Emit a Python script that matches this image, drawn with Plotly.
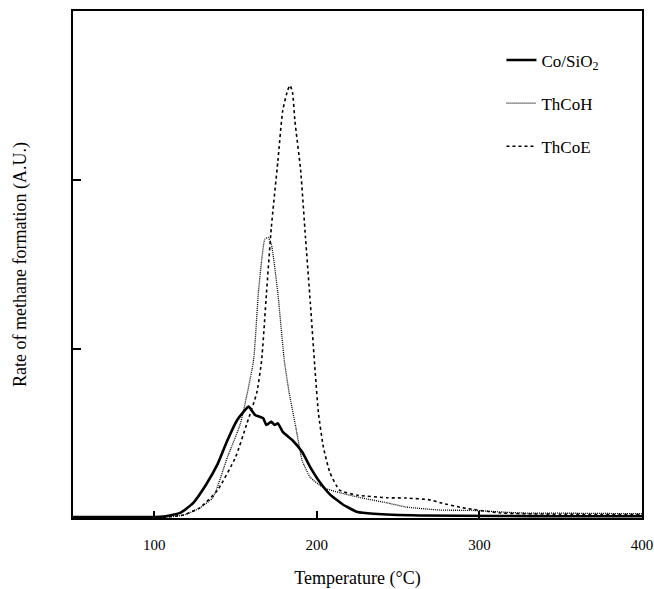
import plotly.graph_objects as go

# Temperature (°C) and rate (A.U.)
co_T = [50, 97, 107, 116, 124, 132, 139, 145, 151, 155, 158, 162, 167, 169, 172, 174, 176, 179, 185, 191, 196, 202, 208, 216, 225, 235, 263, 313, 350, 400]
co_R = [0.005, 0.005, 0.01, 0.03, 0.09, 0.20, 0.32, 0.46, 0.58, 0.63, 0.66, 0.61, 0.59, 0.55, 0.57, 0.55, 0.56, 0.51, 0.46, 0.39, 0.30, 0.21, 0.14, 0.08, 0.035, 0.025, 0.015, 0.012, 0.01, 0.01]

thh_T = [50, 97, 113, 119, 128, 136, 145, 153, 161, 164, 166, 168, 170, 172, 176, 180, 183, 187, 191, 196, 204, 214, 227, 243, 255, 276, 296, 325, 360, 400]
thh_R = [0.003, 0.003, 0.01, 0.02, 0.06, 0.12, 0.36, 0.56, 0.93, 1.33, 1.52, 1.65, 1.66, 1.62, 1.33, 0.93, 0.74, 0.54, 0.34, 0.24, 0.18, 0.15, 0.12, 0.09, 0.065, 0.047, 0.045, 0.03, 0.028, 0.025]

the_T = [50, 104, 118, 128, 139, 150, 157, 163, 166, 169, 172, 176, 179, 182, 183.5, 185, 186.5, 190, 193, 196, 199, 201, 204, 208, 214, 225, 243, 255, 270, 276, 290, 313, 350, 400]
the_R = [0.003, 0.003, 0.018, 0.06, 0.166, 0.36, 0.56, 0.74, 0.93, 1.33, 1.72, 2.11, 2.41, 2.53, 2.56, 2.52, 2.35, 2.06, 1.66, 1.27, 0.86, 0.62, 0.42, 0.27, 0.165, 0.135, 0.12, 0.118, 0.107, 0.09, 0.06, 0.03, 0.022, 0.02]

x_ticks = [100, 200, 300, 400]
y_ticks = [0, 1, 2, 3]

serif = "Liberation Serif, Times New Roman, serif"

fig = go.Figure()
fig.add_trace(go.Scatter(x=co_T, y=co_R, mode="lines", name="Co/SiO<sub>2</sub>",
                         legendgroup="a", line=dict(color="black", width=2.6, shape="spline", smoothing=0.4)))
fig.add_trace(go.Scatter(x=thh_T, y=thh_R, mode="lines", name="ThCoH",
                         legendgroup="b", line=dict(color="black", width=1.3, dash="1px,1px", shape="spline", smoothing=0.5)))
fig.add_trace(go.Scatter(x=the_T, y=the_R, mode="lines", name="ThCoE",
                         legendgroup="c", line=dict(color="black", width=1.6, dash="3px,3px", shape="spline", smoothing=0.5)))

fig.update_layout(
    width=654, height=589,
    margin=dict(l=73, r=12, t=11, b=71),
    paper_bgcolor="white", plot_bgcolor="white",
    font=dict(family=serif, color="black", size=15),
    showlegend=True,
    legend=dict(x=0.753, y=0.938, xanchor="left", yanchor="top",
                font=dict(family=serif, size=17, color="black"),
                bgcolor="rgba(0,0,0,0)", tracegroupgap=18, itemwidth=30),
    xaxis=dict(range=[50, 400], tickvals=x_ticks, ticks="inside", ticklen=7, tickwidth=1.5,
               tickcolor="black", showline=True, linewidth=2, linecolor="black", mirror=True,
               showgrid=False, zeroline=False, tickfont=dict(family=serif, size=15),
               ticklabelstandoff=12, automargin=False,
               title=dict(text="Temperature (°C)", font=dict(family=serif, size=18), standoff=20)),
    yaxis=dict(range=[0, 3.0], tickvals=y_ticks, showticklabels=False, ticks="inside", ticklen=8,
               tickwidth=2, tickcolor="black", showline=True, linewidth=2, linecolor="black",
               mirror=True, showgrid=False, zeroline=False, automargin=False,
               title=dict(text="Rate of methane formation (A.U.)", font=dict(family=serif, size=18), standoff=40)),
)

fig.write_html("out.html")
